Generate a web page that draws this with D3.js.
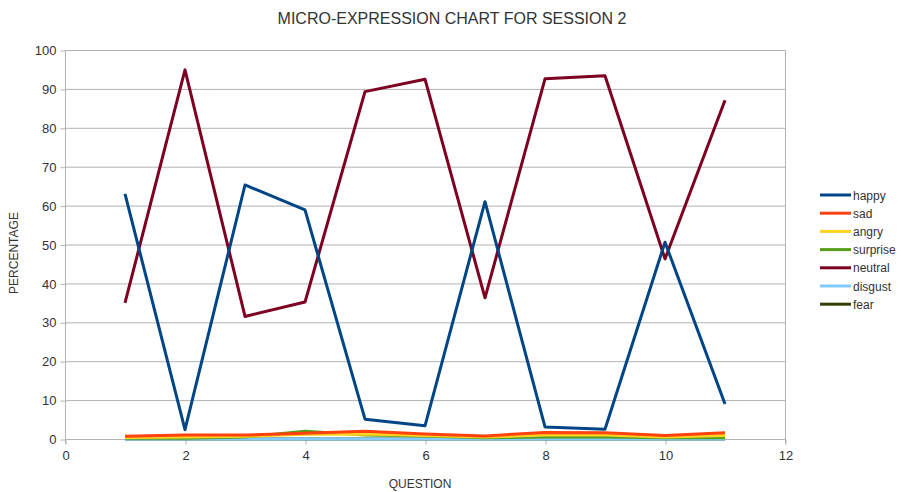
<!DOCTYPE html>
<html><head><meta charset="utf-8">
<script src="https://cdn.jsdelivr.net/npm/d3@7"></script>
<style>body{margin:0;background:#fff;}svg{display:block;font-family:"Liberation Sans",Arial,sans-serif;}</style>
</head><body>
<svg id="c" width="905" height="492"></svg>
<script>
const questions = [1,2,3,4,5,6,7,8,9,10,11];
const seriesNames = ["happy","sad","angry","surprise","neutral","disgust","fear"];
const happy    = [63.0, 2.4, 65.3, 58.9, 5.1, 3.4, 61.0, 3.1, 2.5, 50.6, 9.0];
const sad      = [0.7, 1.0, 1.0, 1.5, 2.0, 1.3, 0.8, 1.7, 1.6, 0.9, 1.6];
const angry    = [0.4, 0.5, 0.7, 1.2, 1.3, 0.9, 0.5, 1.0, 1.0, 0.5, 0.9];
const surprise = [0.2, 0.2, 0.5, 2.0, 1.0, 0.8, 0.3, 0.5, 0.5, 0.3, 0.3];
const neutral  = [35.0, 94.9, 31.5, 35.2, 89.3, 92.5, 36.3, 92.6, 93.4, 46.3, 87.1];
const disgust  = [0.0, 0.0, 0.0, 0.0, 0.0, 0.0, 0.0, 0.0, 0.0, 0.0, 0.0];
const fear     = [0.0, 0.0, 0.0, 0.0, 0.0, 0.0, 0.0, 0.0, 0.0, 0.0, 0.0];
const colors = ["#004586","#ff420e","#ffd320","#579d1c","#7e0021","#83caff","#314004"];
const xTicks = [0,2,4,6,8,10,12];
const yTicks = [0,10,20,30,40,50,60,70,80,90,100];
const values = [happy, sad, angry, surprise, neutral, disgust, fear];

const svg = d3.select("#c");
const L=65, R=785, T=50, B=439;
const x = d3.scaleLinear().domain([0,12]).range([L,R]);
const y = d3.scaleLinear().domain([0,100]).range([B,T]);

svg.append("g").selectAll("line").data(yTicks).join("line")
  .attr("x1",L).attr("x2",R).attr("y1",d=>y(d)+0.5).attr("y2",d=>y(d)+0.5)
  .attr("stroke","#b3b3b3").attr("stroke-width",1);
svg.append("line").attr("x1",R+0.5).attr("x2",R+0.5).attr("y1",T).attr("y2",B+5).attr("stroke","#b3b3b3");
svg.append("line").attr("x1",L+0.5).attr("x2",L+0.5).attr("y1",T).attr("y2",B+5).attr("stroke","#b3b3b3");

const yAxis = d3.axisLeft(y).tickValues(yTicks).tickSize(5).tickPadding(4);
const gy = svg.append("g").attr("transform",`translate(${L+0.5},0.5)`).call(yAxis);
const xAxis = d3.axisBottom(x).tickValues(xTicks).tickSize(5).tickPadding(6);
const gx = svg.append("g").attr("transform",`translate(0.5,${B+0.5})`).call(xAxis);
[gy,gx].forEach(g=>{
  g.select(".domain").remove();
  g.selectAll(".tick line").attr("stroke","#b3b3b3");
  g.selectAll(".tick text").attr("fill","#333").style("font-size","13px").style("font-family","Liberation Sans, Arial, sans-serif");
});

const line = d3.line().x((d,i)=>x(questions[i])).y(d=>y(d));
// draw in reverse series order so earlier series sit on top
for (let k = values.length - 1; k >= 0; k--) {
  svg.append("path").datum(values[k]).attr("d",line).attr("fill","none")
    .attr("stroke",colors[k]).attr("stroke-width",3).attr("stroke-linejoin","round");
}

svg.append("text").attr("x",452).attr("y",24).attr("text-anchor","middle")
  .attr("fill","#333").style("font-size","16px").text("MICRO-EXPRESSION CHART FOR SESSION 2");
svg.append("text").attr("x",420).attr("y",488).attr("text-anchor","middle")
  .attr("fill","#333").style("font-size","12px").text("QUESTION");
svg.append("text").attr("transform","translate(18,253) rotate(-90)").attr("text-anchor","middle")
  .attr("fill","#333").style("font-size","12px").text("PERCENTAGE");

const lg = svg.append("g");
seriesNames.forEach((n,i)=>{
  const yy = 195 + i*18.2;
  lg.append("line").attr("x1",820).attr("x2",851).attr("y1",yy).attr("y2",yy)
    .attr("stroke",colors[i]).attr("stroke-width",3);
  lg.append("text").attr("x",853).attr("y",yy+4.5).attr("fill","#333")
    .style("font-size","12px").text(n);
});
</script>
</body></html>
